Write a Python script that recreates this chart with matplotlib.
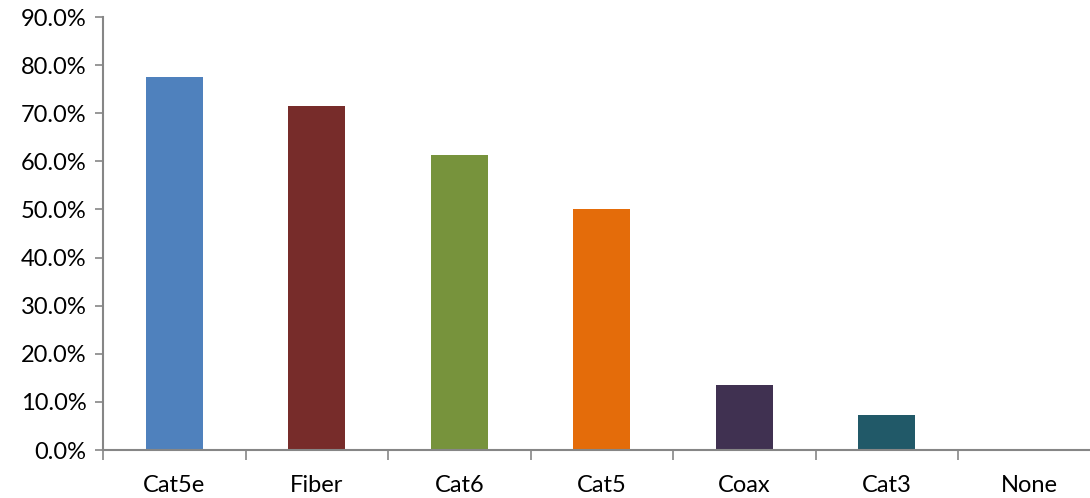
import matplotlib.pyplot as plt

categories = ["Cat5e", "Fiber", "Cat6", "Cat5", "Coax", "Cat3", "None"]
shares = [77.5, 71.5, 61.4, 50.0, 13.5, 7.3, 0.0]
bar_colors = ["#4F81BD", "#772C2A", "#77933C", "#E46C0A", "#403151", "#215968", "#4BACC6"]
y_ticks = [0, 10, 20, 30, 40, 50, 60, 70, 80, 90]
title = "Networking Cabling Deployed by Type"

plt.rcParams["font.family"] = ["Lato", "DejaVu Sans"]

fig = plt.figure(figsize=(10.9, 4.98), dpi=100)
# plot area runs a little past the right edge of the canvas
ax = fig.add_axes([103 / 1090, 48 / 498, 997.5 / 1090, 433 / 498])

x = range(len(categories))
ax.bar(x, shares, width=0.4, color=bar_colors, zorder=2)

ax.set_xlim(-0.5, len(categories) - 0.5)
ax.set_ylim(0, 90)
ax.set_yticks(y_ticks)
ax.set_yticklabels([f"{v:.1f}%" for v in y_ticks])
ax.set_xticks([i - 0.5 for i in x], minor=True)
ax.set_xticks(list(x))
ax.set_xticklabels(categories)
ax.tick_params(axis="x", which="major", length=0, pad=18, labelsize=17)
ax.tick_params(axis="x", which="minor", length=7, width=1.2, color="#868686")
ax.tick_params(axis="y", length=6, width=1.2, color="#868686", labelsize=17, pad=6)

for side in ["top", "right"]:
    ax.spines[side].set_visible(False)
for side in ["left", "bottom"]:
    ax.spines[side].set_color("#868686")
    ax.spines[side].set_linewidth(1.5)

# chart title sits above the visible area, only descender tips show
fig.text(1030 / 1090, 1.013, title, ha="right", va="baseline", fontsize=26,
         fontweight="bold", color="#1F3864")

fig.savefig("out.png", dpi=100)
